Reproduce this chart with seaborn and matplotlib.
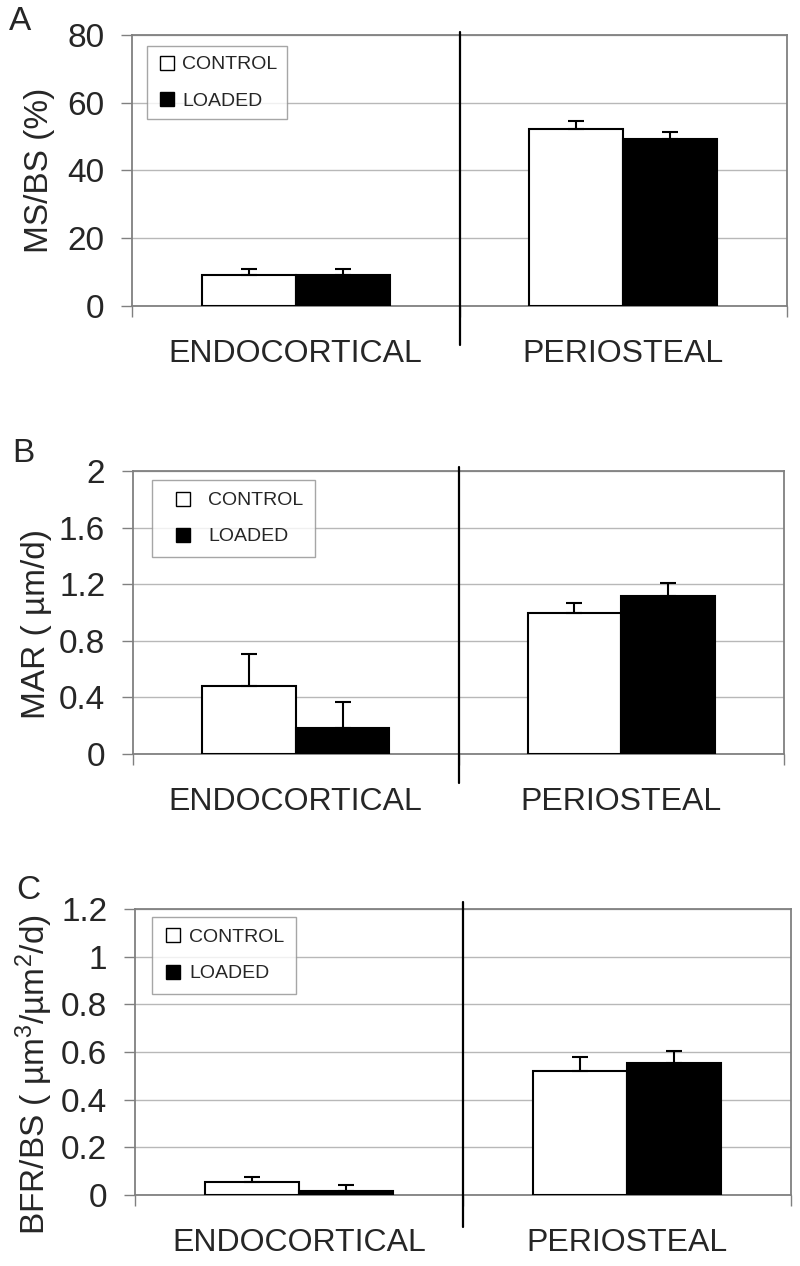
import matplotlib
matplotlib.use("Agg")
import matplotlib.pyplot as plt
import numpy as np
import pandas as pd
import seaborn as sns
from matplotlib.lines import Line2D

sites = ["ENDOCORTICAL", "PERIOSTEAL"]
groups = ["CONTROL", "LOADED"]

# panel A: MS/BS (%)
ms_control = [9.1, 52.2]
ms_loaded = [9.2, 49.3]
ms_control_err = [1.9, 2.4]
ms_loaded_err = [1.8, 2.1]

# panel B: MAR (um/d)
mar_control = [0.48, 1.00]
mar_loaded = [0.185, 1.115]
mar_control_err = [0.225, 0.07]
mar_loaded_err = [0.185, 0.095]

# panel C: BFR/BS
bfr_control = [0.053, 0.52]
bfr_loaded = [0.018, 0.555]
bfr_control_err = [0.022, 0.06]
bfr_loaded_err = [0.022, 0.05]

ms_ticks = [0, 20, 40, 60, 80]
mar_ticks = [0, 0.4, 0.8, 1.2, 1.6, 2]
bfr_ticks = [0, 0.2, 0.4, 0.6, 0.8, 1, 1.2]

sns.set_style("white")
plt.rcParams["font.family"] = ["Liberation Sans", "DejaVu Sans"]
plt.rcParams["mathtext.default"] = "regular"

W, H = 800, 1266
fig = plt.figure(figsize=(W / 100, H / 100), dpi=100)

panels = [
    dict(letter="A", rect=(132, 35, 787, 306), ylabel="MS/BS (%)", ticks=ms_ticks,
         ctrl=ms_control, load=ms_loaded, ctrl_err=ms_control_err, load_err=ms_loaded_err,
         sep=(-0.144, 1.011), lab=(-0.118, 0.5), letter_xy=(9, 6),
         anchor=(0.023, 0.959), bpad=0.5, hlen=1.0),
    dict(letter="B", rect=(133, 471, 784, 754), ylabel="MAR ( µm/d)", ticks=mar_ticks,
         ctrl=mar_control, load=mar_loaded, ctrl_err=mar_control_err, load_err=mar_loaded_err,
         sep=(-0.102, 1.014), lab=(-0.124, 0.46), letter_xy=(12, 438),
         anchor=(0.029, 0.968), bpad=0.6, hlen=2.0),
    dict(letter="C", rect=(135, 909, 791, 1195), ylabel="BFR/BS ( µm$^3$/µm$^2$/d)", ticks=bfr_ticks,
         ctrl=bfr_control, load=bfr_loaded, ctrl_err=bfr_control_err, load_err=bfr_loaded_err,
         sep=(-0.112, 1.024), lab=(-0.122, 0.42), letter_xy=(16, 875),
         anchor=(0.026, 0.972), bpad=0.6, hlen=1.0),
]

grey = "#808080"

for p in panels:
    x0, y0, x1, y1 = p["rect"]
    ax = fig.add_axes([x0 / W, 1 - y1 / H, (x1 - x0) / W, (y1 - y0) / H])

    df = pd.DataFrame({
        "site": sites * 2,
        "group": [groups[0]] * 2 + [groups[1]] * 2,
        "value": p["ctrl"] + p["load"],
    })
    sns.barplot(data=df, x="site", y="value", hue="group", hue_order=groups,
                palette={"CONTROL": "white", "LOADED": "black"}, edgecolor="black",
                linewidth=1.5, width=0.575, errorbar=None, legend=False, ax=ax, zorder=3)

    # upper-only error bars at the bar centres
    for cont, err in zip(ax.containers, [p["ctrl_err"], p["load_err"]]):
        xs = [b.get_x() + b.get_width() / 2 for b in cont]
        ys = [b.get_height() for b in cont]
        ax.errorbar(xs, ys, yerr=[np.zeros(len(err)), err], fmt="none", ecolor="black",
                    elinewidth=1.5, capsize=5.5, capthick=1.5, zorder=4)

    ticks = p["ticks"]
    ax.set_ylim(ticks[0], ticks[-1])
    ax.set_xlim(-0.5, 1.5)
    ax.set_yticks(ticks)
    ax.set_yticklabels([f"{t:g}" for t in ticks])
    ax.yaxis.grid(True, color="#b8b8b8", linewidth=1, zorder=0)
    ax.set_axisbelow(True)
    for s in ax.spines.values():
        s.set_color(grey)
        s.set_linewidth(1.3)
        s.set_visible(True)

    ax.tick_params(axis="y", which="major", length=8, width=1, color=grey,
                   labelsize=24, pad=12, left=True, direction="out")
    ax.set_xticks([0, 1])
    ax.set_xticklabels(sites)
    ax.set_xticks([-0.5, 0.5, 1.5], minor=True)
    ax.tick_params(axis="x", which="major", length=0, labelsize=23, pad=24)
    ax.tick_params(axis="x", which="minor", length=8, width=1, color=grey,
                   bottom=True, direction="out")
    ax.set_xlabel("")
    ax.set_ylabel(p["ylabel"], fontsize=24)
    ax.yaxis.set_label_coords(*p["lab"])

    # vertical separator between the two sites
    ax.plot([0.5, 0.5], p["sep"], color="black", linewidth=1.6,
            transform=ax.get_xaxis_transform(), clip_on=False, zorder=5)

    handles = [Line2D([], [], marker="s", linestyle="", markersize=9.5,
                      markerfacecolor=c, markeredgecolor="black", markeredgewidth=1)
               for c in ["white", "black"]]
    leg = ax.legend(handles, groups, loc="upper left", bbox_to_anchor=p["anchor"],
                    borderaxespad=0, frameon=True, fancybox=False, fontsize=14,
                    borderpad=p["bpad"], handletextpad=0.3, handlelength=p["hlen"],
                    labelspacing=0.95)
    leg.get_frame().set_edgecolor("#909090")
    leg.get_frame().set_linewidth(1)
    leg.set_zorder(6)

    lx, ly = p["letter_xy"]
    fig.text(lx / W, 1 - ly / H, p["letter"], fontsize=24, va="top", ha="left")

fig.savefig("out.png", dpi=100)
